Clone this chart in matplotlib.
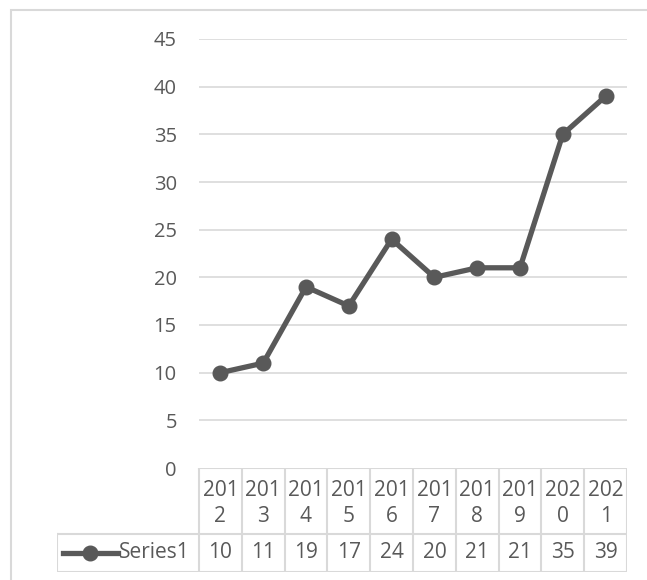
import matplotlib
matplotlib.use("Agg")
import matplotlib.pyplot as plt
from matplotlib.lines import Line2D
from matplotlib.patches import Rectangle

years = ["2012", "2013", "2014", "2015", "2016", "2017", "2018", "2019", "2020", "2021"]
series1 = [10, 11, 19, 17, 24, 20, 21, 21, 35, 39]
series_name = "Series1"
y_ticks = [0, 5, 10, 15, 20, 25, 30, 35, 40, 45]

GRIS_TEXTO = "#595959"
GRIS_LINEA = "#d9d9d9"
GRIS_SERIE = "#595959"

plt.rcParams["font.family"] = ["Open Sans", "DejaVu Sans"]

W, H = 647, 580
fig = plt.figure(figsize=(W / 100, H / 100), dpi=100)
fig.patch.set_facecolor("white")


def caja(x0, y0, x1, y1):
    # pixeles (origen arriba-izquierda) -> fracciones de figura
    return [x0 / W, 1 - y1 / H, (x1 - x0) / W, (y1 - y0) / H]


# marco del grafico
fig.add_artist(Rectangle((11 / W, -0.1), 1.2, 1 - 10 / H + 0.1,
                         transform=fig.transFigure, fill=False,
                         edgecolor=GRIS_LINEA, lw=1.5))

# ================================
# AREA DE LA SERIE
# ================================
x = list(range(len(years)))
ax = fig.add_axes(caja(199, 39, 627, 468))
ax.set_xlim(-0.5, len(years) - 0.5)
ax.set_ylim(0, 45)
ax.set_yticks(y_ticks)
ax.set_xticks([])
for v in y_ticks[1:]:
    ax.axhline(v, color=GRIS_LINEA, lw=1.2, zorder=1)
for s in ax.spines.values():
    s.set_visible(False)
ax.tick_params(axis="y", length=0, pad=16, labelsize=14.5, labelcolor=GRIS_TEXTO)
ax.plot(x, series1, color=GRIS_SERIE, lw=3.8, marker="o", markersize=10.5,
        zorder=3, solid_capstyle="round")

# ================================
# TABLA DE DATOS
# ================================
px_col = (627 - 199) / len(years)
ancho_leyenda = (199 - 57) / px_col
tx = fig.add_axes(caja(57, 468, 627, 572))
x_min = -0.5 - ancho_leyenda
tx.set_xlim(x_min, len(years) - 0.5)
tx.set_ylim(104, 0)
tx.axis("off")

kw = dict(color=GRIS_LINEA, lw=1.5, solid_capstyle="projecting")
# bordes horizontales
tx.plot([-0.5, len(years) - 0.5], [0, 0], **kw)
tx.plot([x_min, len(years) - 0.5], [66, 66], **kw)
tx.plot([x_min, len(years) - 0.5], [104, 104], **kw)
# bordes verticales
tx.plot([x_min, x_min], [66, 104], **kw)
for i in range(len(years) + 1):
    tx.plot([i - 0.5, i - 0.5], [0, 104], **kw)

fs = 15
for i, (anio, val) in enumerate(zip(years, series1)):
    tx.text(i, 22, anio[:3], ha="center", va="center", fontsize=fs, color=GRIS_TEXTO)
    tx.text(i, 49, anio[3:], ha="center", va="center", fontsize=fs, color=GRIS_TEXTO)
    tx.text(i, 85, str(val), ha="center", va="center", fontsize=fs, color=GRIS_TEXTO)

# clave de la leyenda
k0 = x_min + 6 / px_col
k1 = x_min + 61 / px_col
tx.add_line(Line2D([k0, k1], [85, 85], color=GRIS_SERIE, lw=3.8))
tx.add_line(Line2D([(k0 + k1) / 2], [85], color=GRIS_SERIE, marker="o",
                   markersize=10.5, lw=0))
tx.text(k1 + 1 / px_col, 85, series_name, ha="left", va="center",
        fontsize=fs, color=GRIS_TEXTO)

fig.savefig("out.png", dpi=100)
